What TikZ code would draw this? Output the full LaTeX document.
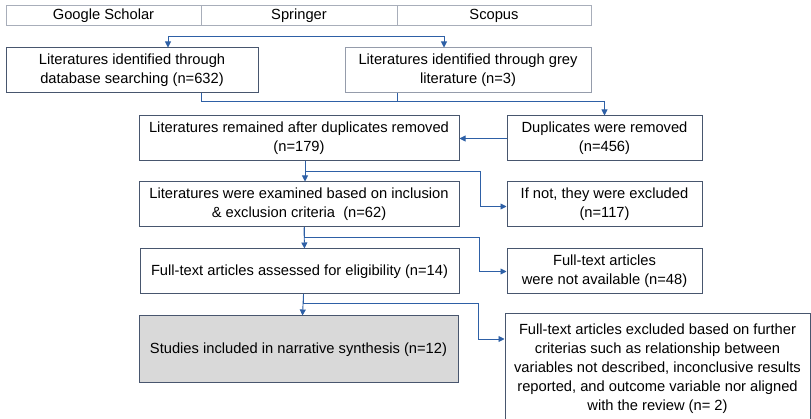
\documentclass[tikz,border=0pt]{standalone}
\usepackage{fontspec}
\setmainfont{Liberation Sans}
\usetikzlibrary{arrows.meta}

\definecolor{boxline}{RGB}{72,86,110}
\definecolor{cellline}{RGB}{168,174,186}
\definecolor{flowblue}{RGB}{46,96,166}
\definecolor{shade}{RGB}{217,217,217}

\tikzset{
  stage/.style={draw=boxline, line width=1pt, inner sep=0pt, align=center,
    font=\fontsize{14.7}{19}\selectfont},
  cell/.style={draw=cellline, line width=1pt, inner sep=0pt, minimum height=20,
    font=\fontsize{14.7}{19}\selectfont},
  link/.style={draw=flowblue, line width=0.9pt},
  flow/.style={link, -{Triangle[length=6pt,width=6pt]}},
}

\begin{document}
\begin{tikzpicture}[x=1pt, y=-1pt]
  \useasboundingbox (0,0) rectangle (811,419);
  \clip (0,0) rectangle (811,419);
  % databases
  \node[cell, minimum width=195] (gs) at (103.5,16) {Google Scholar};
  \node[cell, minimum width=196] (spr) at (299,16) {Springer};
  \node[cell, minimum width=194] (sco) at (494,16) {Scopus};
  % identification
  \node[stage, minimum width=252, minimum height=45] (ida) at (132,70.5)
    {Literatures identified through\\database searching (n=632)};
  \node[stage, draw=cellline!80!boxline, minimum width=246, minimum height=45] (idb) at (468,70.5)
    {Literatures identified through grey\\literature (n=3)};
  % screening
  \node[stage, minimum width=320, minimum height=45] (rem) at (299,138.5)
    {Literatures remained after duplicates removed\\(n=179)};
  \node[stage, minimum width=195, minimum height=45] (dup) at (604.5,138.5)
    {Duplicates were removed\\(n=456)};
  \node[stage, minimum width=320, minimum height=45] (exam) at (299,204.5)
    {Literatures were examined based on inclusion\\\& exclusion criteria\ \ (n=62)};
  \node[stage, minimum width=195, minimum height=45] (excl) at (604.5,204.5)
    {If not, they were excluded\\(n=117)};
  % eligibility
  \node[stage, minimum width=319, minimum height=45] (full) at (299.5,271.5)
    {Full-text articles assessed for eligibility (n=14)};
  \node[stage, minimum width=195, minimum height=45] (nav) at (604.5,271.5)
    {Full-text articles\\were not available (n=48)};
  % included
  \node[stage, fill=shade, minimum width=319, minimum height=67] (incl) at (298.5,349.5)
    {Studies included in narrative synthesis (n=12)};
  \node[stage, minimum width=305, minimum height=110] (furth) at (657.5,369)
    {Full-text articles excluded based on further\\criterias such as relationship between\\variables not described, inconclusive results\\reported, and outcome variable nor aligned\\with the review (n= 2)};

  % connectors
  \coordinate (split) at (306,36);
  \draw[flow] (split) -| ([xshift=36]ida.north);
  \draw[flow] (split) -| ([xshift=-24]idb.north);
  \coordinate (merge) at (604.5,101);
  \draw[link] ([xshift=69]ida.south) |- (merge);
  \draw[link] ([xshift=-71]idb.south) |- (merge);
  \draw[flow] (merge) -- (dup.north);
  \draw[flow] (dup.west) -- (rem.east);
  \coordinate (bend1) at (480,171);
  \draw[flow] ([xshift=6]rem.south) -- ([xshift=6]exam.north);
  \draw[flow] ([xshift=6]rem.south) |- (bend1) |- ([yshift=-2]excl.west);
  \coordinate (bend2) at (479,237);
  \draw[flow] ([xshift=5]exam.south) -- ([xshift=5]full.north);
  \draw[flow] ([xshift=5]exam.south) |- (bend2) |- (nav.west);
  \coordinate (bend3) at (478,303);
  \draw[flow] ([xshift=4]full.south) -- ([xshift=4]incl.north);
  \draw[flow] ([xshift=4]full.south) |- (bend3) |- ([yshift=30]furth.west);
\end{tikzpicture}
\end{document}
